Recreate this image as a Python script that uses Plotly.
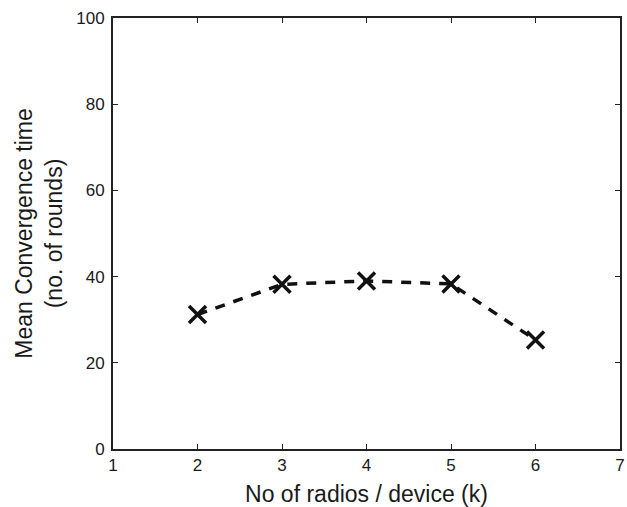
import plotly.graph_objects as go

radios = [2, 3, 4, 5, 6]
conv_time = [31.2, 38.2, 39.0, 38.3, 25.3]
x_ticks = [1, 2, 3, 4, 5, 6, 7]
y_ticks = [0, 20, 40, 60, 80, 100]

FONT = "Liberation Sans, Arial, sans-serif"

fig = go.Figure()
fig.add_trace(go.Scatter(
    x=radios, y=conv_time, mode="lines+markers",
    line=dict(color="#111111", width=3.5, dash="10px,9px"),
    marker=dict(symbol="x-thin", size=17, line=dict(color="#111111", width=3.5)),
    showlegend=False,
))

axis_common = dict(
    showgrid=False, zeroline=False, showline=True, linecolor="#222222", linewidth=2,
    mirror="ticks", ticks="inside", ticklen=5, tickcolor="#222222", tickwidth=1,
    tickfont=dict(family=FONT, size=17, color="#1a1a1a"),
    title_font=dict(family=FONT, size=23, color="#1a1a1a"),
    automargin=False, ticklabeloverflow="allow",
)

fig.update_xaxes(range=[1, 7], tickvals=x_ticks, title_text="No of radios / device (k)",
                 title_standoff=14, **axis_common)
fig.update_yaxes(range=[0, 100], tickvals=y_ticks,
                 title_text="Mean Convergence time<br>(no. of rounds)",
                 ticklabelstandoff=3, title_standoff=7, **axis_common)

fig.update_layout(
    width=627, height=507,
    margin=dict(l=113, r=7, t=18, b=58),
    plot_bgcolor="white", paper_bgcolor="white",
)

fig.write_html("out.html")
